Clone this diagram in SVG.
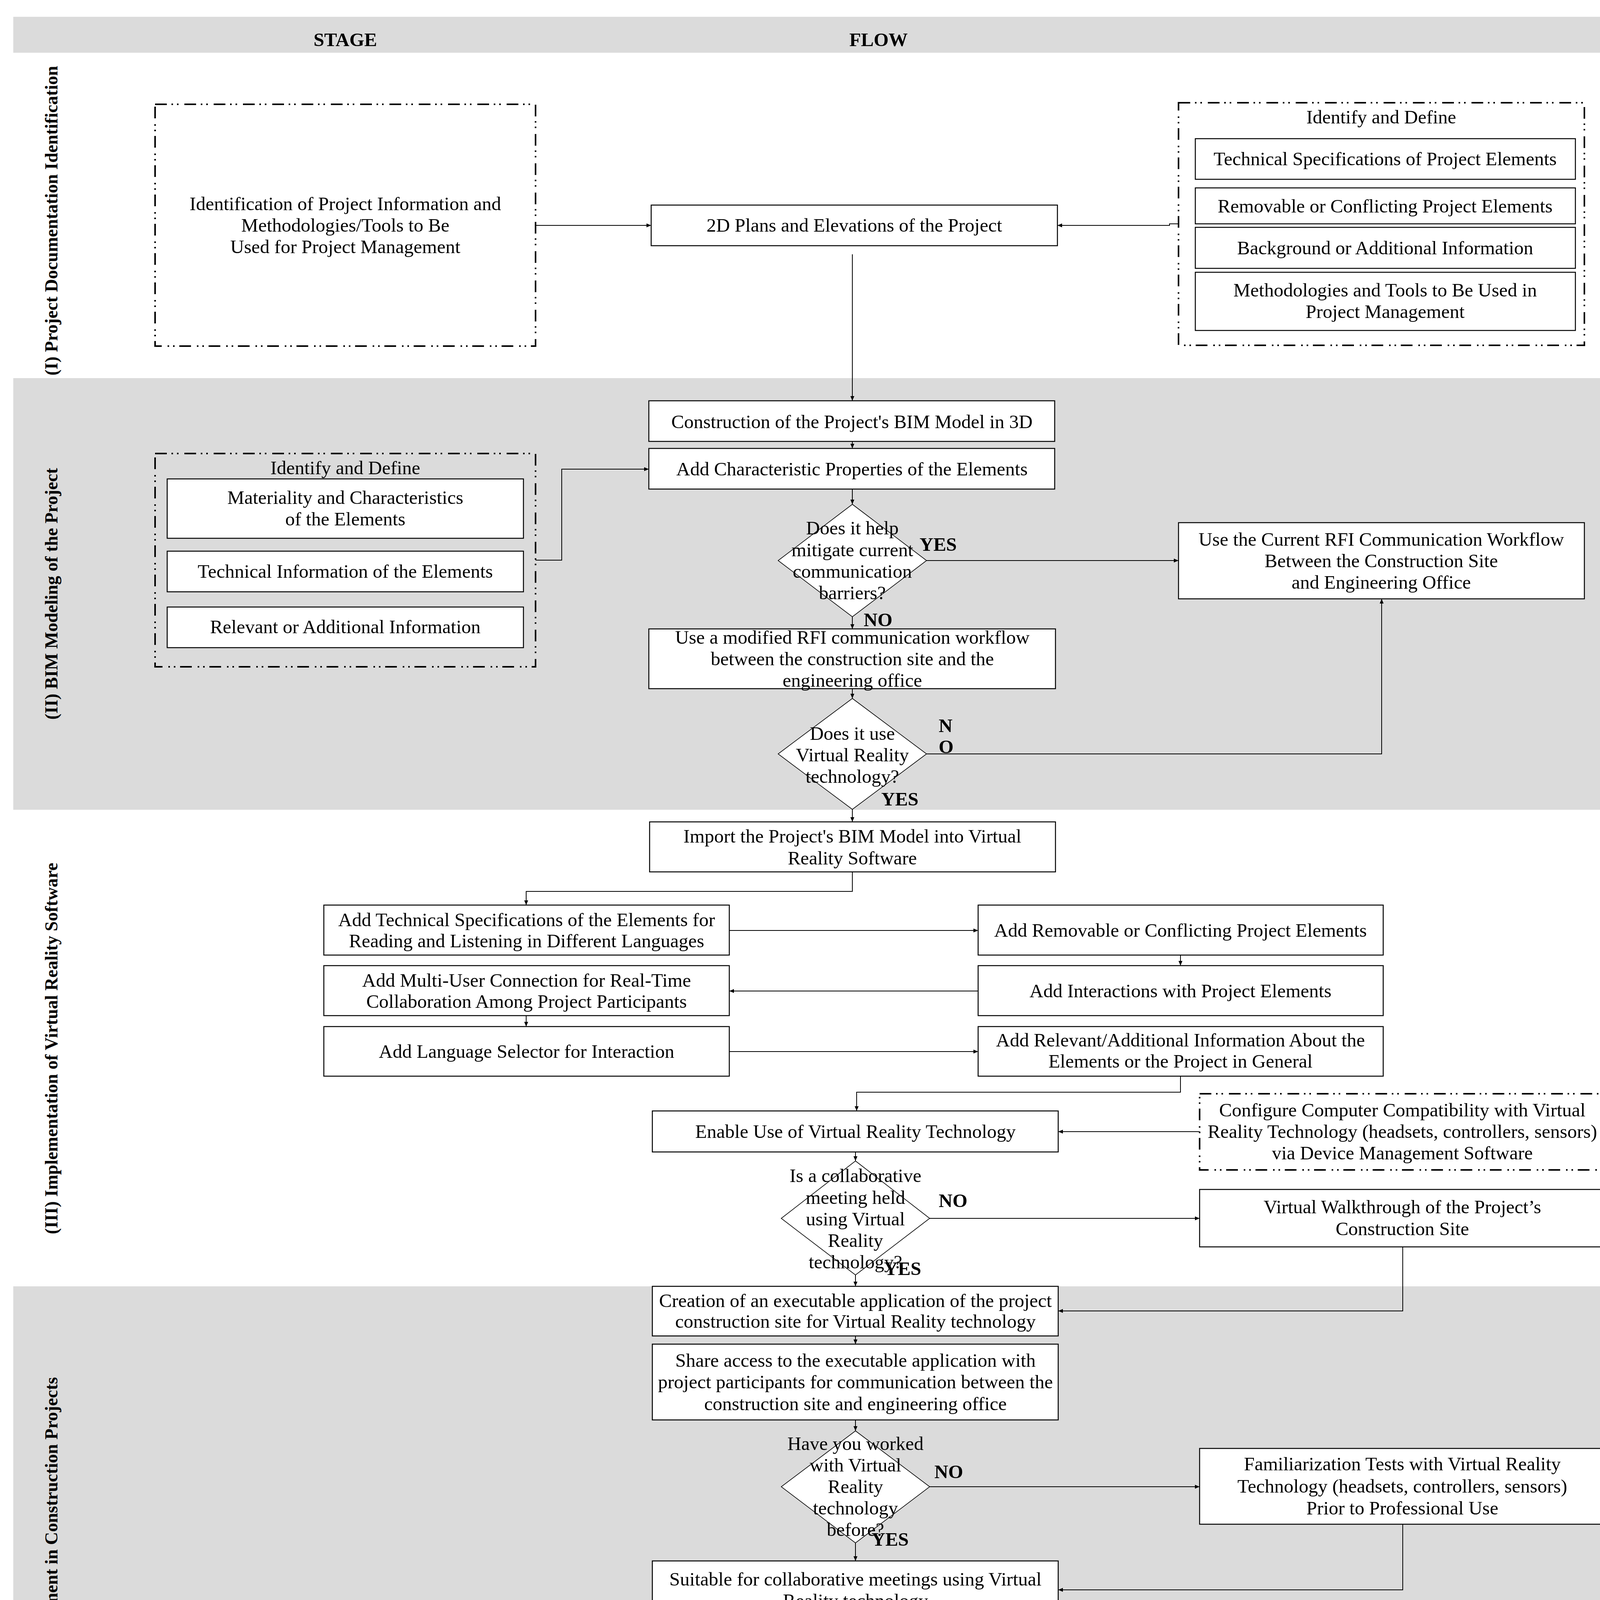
<svg xmlns="http://www.w3.org/2000/svg" width="4397" height="5622" viewBox="0 0 4397 5622">
<style>
.bg{fill:#ffffff}
.band{fill:#DBDBDB}
.box{fill:#ffffff;stroke:#000;stroke-width:2.5}
.dd{fill:none;stroke:#000;stroke-width:4;stroke-dasharray:30 12 4 10 4 15}
.dia{fill:#ffffff;stroke:#000;stroke-width:1.6}
.con{fill:none;stroke:#000;stroke-width:2;marker-end:url(#arr)}
.lin{fill:none;stroke:#000;stroke-width:2}
text{font-family:"Liberation Serif","Times New Roman",serif;font-size:49px;text-anchor:middle;fill:#000}
.b{font-weight:bold}
.lab{font-weight:bold;text-anchor:start}
.vl{font-weight:bold;font-size:46px}
</style>
<defs>
<marker id="arr" markerUnits="userSpaceOnUse" viewBox="0 0 12 10" refX="12" refY="5" markerWidth="12" markerHeight="10" orient="auto">
<path d="M0,0 L12,5 L0,10 z" fill="#000"/>
</marker>
</defs>
<rect class="bg" x="0" y="0" width="4397" height="5622"/>
<g id="bands">
<rect class="band" x="34" y="43" width="4323" height="92"/>
<rect class="band" x="34" y="968" width="4323" height="1105"/>
<rect class="band" x="34" y="3293" width="4323" height="2319"/>
<text class="b" x="884" y="118">STAGE</text>
<text class="b" x="2249" y="118">FLOW</text>
<text class="vl" transform="translate(147,565) rotate(-90)">(I) Project Documentation Identification</text>
<text class="vl" transform="translate(147,1520) rotate(-90)">(II) BIM Modeling of the Project</text>
<text class="vl" transform="translate(147,2684) rotate(-90)">(III) Implementation of Virtual Reality Software</text>
<text class="vl" transform="translate(147,4442) rotate(-90)">(IV) Creation of a Method to Improve Communication Management in Construction Projects</text>
</g>
<g id="connectors">
<path class="con" d="M1371,577 H1667"/>
<path class="con" d="M3017,573 H2994 V577 H2707"/>
<path class="con" d="M2182,651 V1026"/>
<path class="con" d="M2182,1130 V1148"/>
<path class="con" d="M1371,1434 H1438 V1201 H1661"/>
<path class="con" d="M2182,1252 V1291"/>
<path class="con" d="M2372,1435 H3017"/>
<path class="con" d="M2182,1579 V1610"/>
<path class="con" d="M2182,1763 V1788"/>
<path class="con" d="M2372,1930 H3537 V1533"/>
<path class="con" d="M2182,2072 V2104"/>
<path class="con" d="M2182,2232 V2282 H1347 V2317"/>
<path class="con" d="M1867,2382 H2504"/>
<path class="con" d="M3022,2445 V2472"/>
<path class="con" d="M2504,2537 H1867"/>
<path class="con" d="M1347,2600 V2628"/>
<path class="con" d="M1867,2692 H2504"/>
<path class="con" d="M3022,2755 V2796 H2193 V2844"/>
<path class="con" d="M3071,2897 H2709"/>
<path class="con" d="M2190,2949 V2972"/>
<path class="con" d="M2380,3119 H3071"/>
<path class="con" d="M3591,3192 V3356 H2709"/>
<path class="con" d="M2190,3264 V3293"/>
<path class="con" d="M2190,3420 V3441"/>
<path class="con" d="M2190,3635 V3663"/>
<path class="con" d="M2380,3806 H3071"/>
<path class="con" d="M3591,3902 V4070 H2709"/>
<path class="con" d="M2190,3950 V3996"/>
<path class="con" d="M2190,4145 V4161"/>
<path class="con" d="M2190,4356 V4383"/>
<path class="con" d="M2190,4531 V4566"/>
<path class="con" d="M2380,4710 H2768 V4258 H2709"/>
<path class="con" d="M2190,4853 V4892"/>
<path class="con" d="M2190,5040 V5066"/>
<path class="con" d="M2190,5193 V5222"/>
<path class="con" d="M2190,5405 V5425"/>
<path class="con" d="M3101,5308 H2973 V5488 H2709"/>
</g>
<g id="n_identification">
<rect class="dd" x="397" y="267" width="974" height="619"/>
<text x="884" y="538">Identification of Project Information and</text>
<text x="884" y="593">Methodologies/Tools to Be</text>
<text x="884" y="648">Used for Project Management</text>
</g>
<g id="n_2d_plans">
<rect class="box" x="1667" y="525" width="1040" height="104"/>
<text x="2187" y="593">2D Plans and Elevations of the Project</text>
</g>
<g id="n_identify_define_1">
<rect class="dd" x="3017" y="263" width="1039" height="621"/>
<text x="3536" y="316">Identify and Define</text>
<rect class="box" x="3060" y="355" width="973" height="104"/>
<text x="3546" y="423">Technical Specifications of Project Elements</text>
<rect class="box" x="3060" y="481" width="973" height="92"/>
<text x="3546" y="544">Removable or Conflicting Project Elements</text>
<rect class="box" x="3060" y="582" width="973" height="105"/>
<text x="3546" y="651">Background or Additional Information</text>
<rect class="box" x="3060" y="697" width="973" height="149"/>
<text x="3546" y="759">Methodologies and Tools to Be Used in</text>
<text x="3546" y="814">Project Management</text>
</g>
<g id="n_bim_model">
<rect class="box" x="1661" y="1026" width="1039" height="104"/>
<text x="2181" y="1096">Construction of the Project's BIM Model in 3D</text>
</g>
<g id="n_add_char">
<rect class="box" x="1661" y="1148" width="1039" height="104"/>
<text x="2181" y="1217">Add Characteristic Properties of the Elements</text>
</g>
<g id="n_identify_define_2">
<rect class="dd" x="397" y="1161" width="974" height="546"/>
<text x="884" y="1214">Identify and Define</text>
<rect class="box" x="428" y="1226" width="912" height="152"/>
<text x="884" y="1290">Materiality and Characteristics</text>
<text x="884" y="1345">of the Elements</text>
<rect class="box" x="428" y="1411" width="912" height="104"/>
<text x="884" y="1479">Technical Information of the Elements</text>
<rect class="box" x="428" y="1554" width="912" height="104"/>
<text x="884" y="1621">Relevant or Additional Information</text>
</g>
<g id="n_dec_mitigate">
<polygon class="dia" points="2182,1291 2372,1435 2182,1579 1992,1435"/>
<text x="2182" y="1368">Does it help</text>
<text x="2182" y="1424">mitigate current</text>
<text x="2182" y="1479">communication</text>
<text x="2182" y="1534">barriers?</text>
<text class="lab" x="2354" y="1410">YES</text>
<text class="lab" x="2211" y="1603">NO</text>
</g>
<g id="n_use_current">
<rect class="box" x="3017" y="1338" width="1039" height="195"/>
<text x="3536" y="1397">Use the Current RFI Communication Workflow</text>
<text x="3536" y="1452">Between the Construction Site</text>
<text x="3536" y="1507">and Engineering Office</text>
</g>
<g id="n_use_modified">
<rect class="box" x="1661" y="1610" width="1041" height="153"/>
<text x="2182" y="1648">Use a modified RFI communication workflow</text>
<text x="2182" y="1703">between the construction site and the</text>
<text x="2182" y="1758">engineering office</text>
</g>
<g id="n_dec_vr">
<polygon class="dia" points="2182,1788 2372,1930 2182,2072 1992,1930"/>
<text x="2182" y="1894">Does it use</text>
<text x="2182" y="1949">Virtual Reality</text>
<text x="2182" y="2004">technology?</text>
<text class="lab" x="2403" y="1874">N</text>
<text class="lab" x="2403" y="1928">O</text>
<text class="lab" x="2256" y="2062">YES</text>
</g>
<g id="n_import">
<rect class="box" x="1663" y="2104" width="1039" height="128"/>
<text x="2182" y="2157">Import the Project's BIM Model into Virtual</text>
<text x="2182" y="2213">Reality Software</text>
</g>
<g id="n_tech_spec">
<rect class="box" x="829" y="2317" width="1038" height="128"/>
<text x="1348" y="2371">Add Technical Specifications of the Elements for</text>
<text x="1348" y="2425">Reading and Listening in Different Languages</text>
</g>
<g id="n_multi_user">
<rect class="box" x="829" y="2472" width="1038" height="128"/>
<text x="1348" y="2526">Add Multi-User Connection for Real-Time</text>
<text x="1348" y="2580">Collaboration Among Project Participants</text>
</g>
<g id="n_language">
<rect class="box" x="829" y="2628" width="1038" height="127"/>
<text x="1348" y="2708">Add Language Selector for Interaction</text>
</g>
<g id="n_removable">
<rect class="box" x="2504" y="2317" width="1037" height="128"/>
<text x="3022" y="2398">Add Removable or Conflicting Project Elements</text>
</g>
<g id="n_interactions">
<rect class="box" x="2504" y="2472" width="1037" height="128"/>
<text x="3022" y="2553">Add Interactions with Project Elements</text>
</g>
<g id="n_relevant">
<rect class="box" x="2504" y="2628" width="1037" height="127"/>
<text x="3022" y="2679">Add Relevant/Additional Information About the</text>
<text x="3022" y="2733">Elements or the Project in General</text>
</g>
<g id="n_enable">
<rect class="box" x="1670" y="2844" width="1039" height="105"/>
<text x="2190" y="2913">Enable Use of Virtual Reality Technology</text>
</g>
<g id="n_configure">
<rect class="dd" x="3071" y="2800" width="1039" height="195"/>
<text x="3590" y="2858">Configure Computer Compatibility with Virtual</text>
<text x="3590" y="2913">Reality Technology (headsets, controllers, sensors)</text>
<text x="3590" y="2968">via Device Management Software</text>
</g>
<g id="n_dec_meeting">
<polygon class="dia" points="2190,2972 2380,3119 2190,3264 2000,3119"/>
<text x="2190" y="3026">Is a collaborative</text>
<text x="2190" y="3082">meeting held</text>
<text x="2190" y="3137">using Virtual</text>
<text x="2190" y="3192">Reality</text>
<text x="2190" y="3247">technology?</text>
<text class="lab" x="2403" y="3090">NO</text>
<text class="lab" x="2263" y="3264">YES</text>
</g>
<g id="n_walkthrough">
<rect class="box" x="3071" y="3045" width="1039" height="147"/>
<text x="3590" y="3106">Virtual Walkthrough of the Project’s</text>
<text x="3590" y="3162">Construction Site</text>
</g>
<g id="n_creation">
<rect class="box" x="1670" y="3293" width="1039" height="127"/>
<text x="2190" y="3346">Creation of an executable application of the project</text>
<text x="2190" y="3399">construction site for Virtual Reality technology</text>
</g>
<g id="n_share_access">
<rect class="box" x="1670" y="3441" width="1039" height="194"/>
<text x="2190" y="3499">Share access to the executable application with</text>
<text x="2190" y="3554">project participants for communication between the</text>
<text x="2190" y="3610">construction site and engineering office</text>
</g>
<g id="n_dec_worked">
<polygon class="dia" points="2190,3663 2380,3806 2190,3950 2000,3806"/>
<text x="2190" y="3712">Have you worked</text>
<text x="2190" y="3767">with Virtual</text>
<text x="2190" y="3822">Reality</text>
<text x="2190" y="3877">technology</text>
<text x="2190" y="3932">before?</text>
<text class="lab" x="2392" y="3784">NO</text>
<text class="lab" x="2231" y="3957">YES</text>
</g>
<g id="n_fam_tests">
<rect class="box" x="3071" y="3708" width="1039" height="194"/>
<text x="3590" y="3764">Familiarization Tests with Virtual Reality</text>
<text x="3590" y="3821">Technology (headsets, controllers, sensors)</text>
<text x="3590" y="3877">Prior to Professional Use</text>
</g>
<g id="n_suitable">
<rect class="box" x="1670" y="3996" width="1039" height="149"/>
<text x="2190" y="4059">Suitable for collaborative meetings using Virtual</text>
<text x="2190" y="4114">Reality technology</text>
</g>
<g id="n_fam_modified">
<rect class="box" x="1670" y="4161" width="1039" height="195"/>
<text x="2190" y="4221">Familiarization with the modified communication</text>
<text x="2190" y="4275">workflow between the construction site and</text>
<text x="2190" y="4329">engineering office</text>
</g>
<g id="n_apply_modified">
<rect class="box" x="1670" y="4383" width="1039" height="148"/>
<text x="2190" y="4418">Apply the modified communication workflow</text>
<text x="2190" y="4473">between the construction site and engineering</text>
<text x="2190" y="4528">office</text>
</g>
<g id="n_dec_rfi">
<polygon class="dia" points="2190,4566 2380,4710 2190,4853 2000,4710"/>
<text x="2190" y="4645">Has an RFI been</text>
<text x="2190" y="4701">received at the</text>
<text x="2190" y="4755">engineering</text>
<text x="2190" y="4810">office?</text>
<text class="lab" x="2379" y="4699">NO</text>
<text class="lab" x="2231" y="4869">YES</text>
</g>
<g id="n_apply_eight">
<rect class="box" x="1670" y="4892" width="1039" height="148"/>
<text x="2190" y="4955">Apply eight practices in the immersive construction</text>
<text x="2190" y="5011">site scenario to mitigate communication barriers</text>
</g>
<g id="n_rfi_resolved">
<rect class="box" x="1670" y="5066" width="1039" height="127"/>
<text x="2190" y="5120">RFI resolved in a real-time immersive collaborative</text>
<text x="2190" y="5172">meeting</text>
</g>
<g id="n_coordinate">
<rect class="box" x="1670" y="5222" width="1039" height="183"/>
<text x="2190" y="5273">Coordinate an immersive collaborative meeting via</text>
<text x="2190" y="5329">email within the project's virtual construction site</text>
<text x="2190" y="5385">scenario</text>
</g>
<g id="n_share_rfi">
<rect class="box" x="1670" y="5425" width="1039" height="127"/>
<text x="2190" y="5478">Share RFI resolution information with project</text>
<text x="2190" y="5533">participants</text>
</g>
<g id="n_document">
<rect class="dd" x="3101" y="5107" width="1041" height="399"/>
<text x="3622" y="5161">Document</text>
<rect class="box" x="3146" y="5169" width="944" height="159"/>
<text x="3618" y="5239">Recording of the immersive collaborative</text>
<text x="3618" y="5291">meeting using Virtual Reality technology</text>
<rect class="box" x="3143" y="5351" width="945" height="127"/>
<text x="3615" y="5431">Report with the response to the RFI resolution</text>
</g>
</svg>
